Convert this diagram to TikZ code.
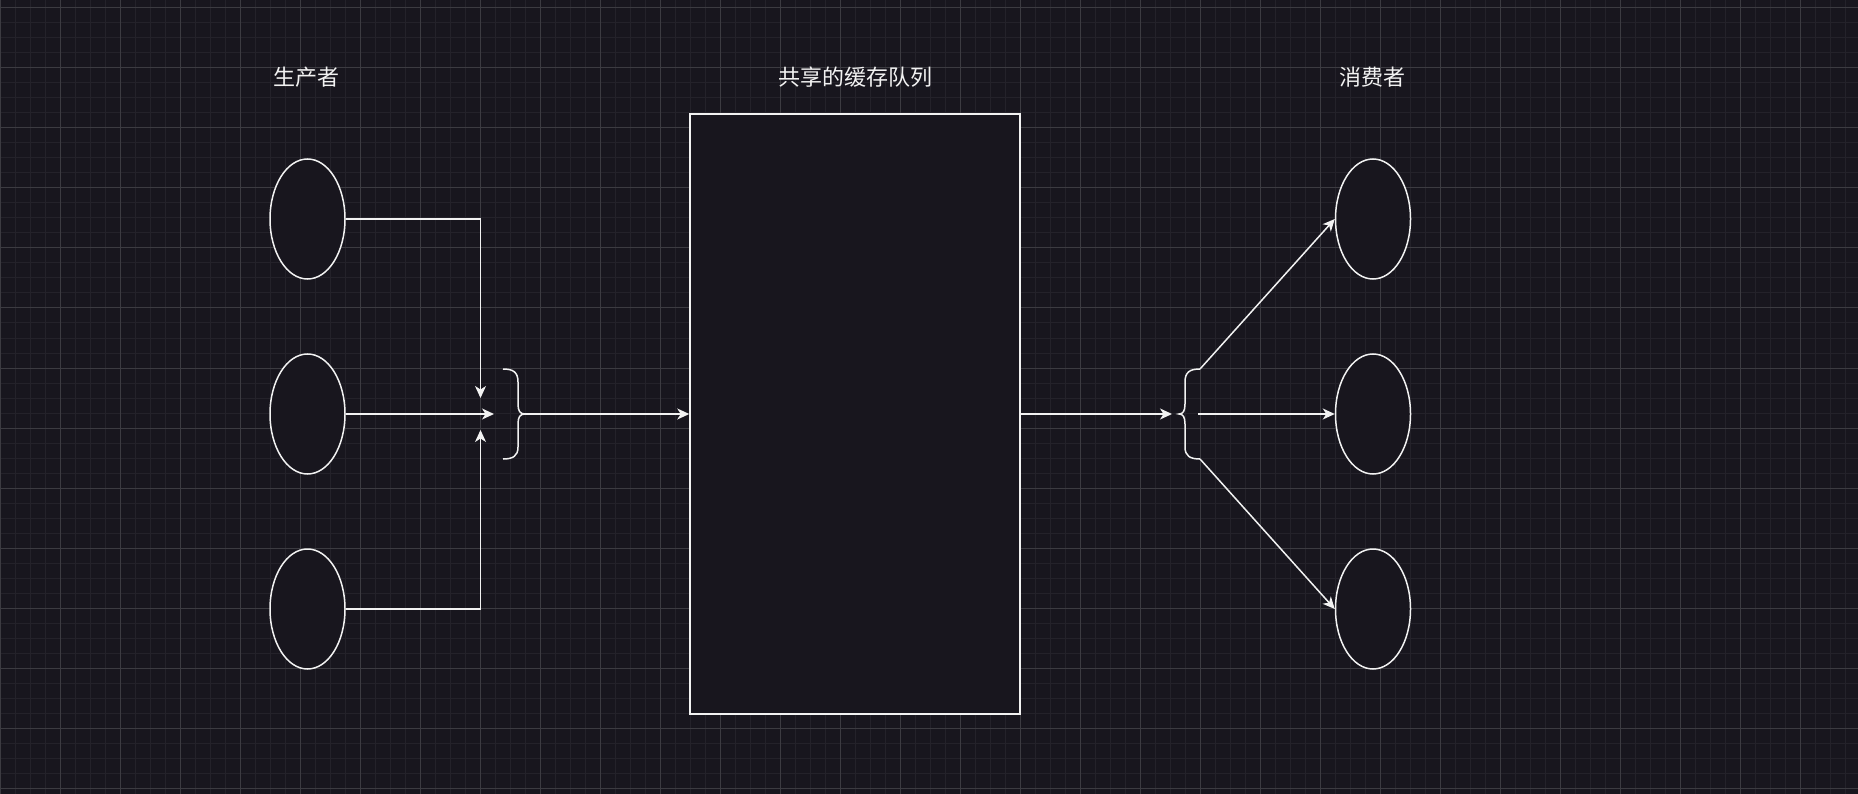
\documentclass[tikz,border=0pt]{standalone}
\usepackage{fontspec}
\newfontfamily\cjk{Noto Sans CJK SC}
\usetikzlibrary{arrows.meta,shapes.geometric}
\definecolor{bg}{HTML}{18161E}
\definecolor{minorgrid}{HTML}{24222A}
\definecolor{majorgrid}{HTML}{3C3B41}
\definecolor{ink}{HTML}{F2F2F2}
\tikzset{
  agent/.style={ellipse, draw=ink, fill=bg, line width=1.5pt, minimum width=75pt, minimum height=120pt, inner sep=0pt},
  queuebox/.style={rectangle, draw=ink, fill=bg, line width=1.5pt, minimum width=330pt, minimum height=600pt, inner sep=0pt},
  lbl/.style={text=ink, font=\cjk\fontsize{22}{26}\selectfont, inner sep=0pt},
  conn/.style={draw=ink, line width=1.5pt, -{Stealth[length=12pt, width=11pt, inset=3.5pt]}},
  bracepath/.style={draw=ink, line width=1.5pt},
}
\begin{document}
\begin{tikzpicture}[x=1pt,y=-1pt]
\fill[bg] (0,0) rectangle (1858,794);
\useasboundingbox (0,0) rectangle (1858,794);
% grid
\foreach \x in {15,30,...,1858} \draw[minorgrid, line width=1pt] (\x,0) -- (\x,794);
\foreach \y in {8,23,...,794} \draw[minorgrid, line width=1pt] (0,\y) -- (1858,\y);
\foreach \x in {0,60,...,1858} \draw[majorgrid, line width=1pt] (\x,0) -- (\x,794);
\foreach \y in {8,68,...,794} \draw[majorgrid, line width=1pt] (0,\y) -- (1858,\y);

% labels
\node[lbl] (lp) at (306,77) {生产者};
\node[lbl] (lq) at (855,77) {共享的缓存队列};
\node[lbl] (lc) at (1372,77) {消费者};

% producers
\node[agent] (p1) at (307.5,219) {};
\node[agent] (p2) at (307.5,414) {};
\node[agent] (p3) at (307.5,609) {};

% consumers
\node[agent] (c1) at (1373,219) {};
\node[agent] (c2) at (1373,414) {};
\node[agent] (c3) at (1373,609) {};

% queue
\node[queuebox] (q) at (855,414) {};

% producer side
\coordinate (jt) at (480.5,398);
\coordinate (jm) at (494,414);
\coordinate (jb) at (480.5,430);
\draw[conn] (p1.east) -| (jt);
\draw[conn] (p2.east) -- (jm);
\draw[conn] (p3.east) -| (jb);

\draw[bracepath] (503,369) .. controls (513,369) and (518,372) .. (518,382) -- (518,404)
  .. controls (518,411) and (520,414) .. (525,414)
  .. controls (520,414) and (518,417) .. (518,424) -- (518,447)
  .. controls (518,456) and (513,459) .. (503,459);
\coordinate (bl) at (524,414);
\draw[conn] (bl) -- (q.west);

% consumer side
\coordinate (rt) at (1172,414);
\draw[conn] (q.east) -- (rt);
\draw[bracepath] (1200,369) .. controls (1190,369) and (1185,372) .. (1185,382) -- (1185,404)
  .. controls (1185,411) and (1183,414) .. (1179,414)
  .. controls (1183,414) and (1185,417) .. (1185,424) -- (1185,447)
  .. controls (1185,456) and (1190,459) .. (1200,459);
\coordinate (ra) at (1200,369);
\coordinate (rm) at (1198,414);
\coordinate (rb) at (1200,459);
\draw[conn] (ra) -- (c1.west);
\draw[conn] (rm) -- (c2.west);
\draw[conn] (rb) -- (c3.west);
\end{tikzpicture}
\end{document}
